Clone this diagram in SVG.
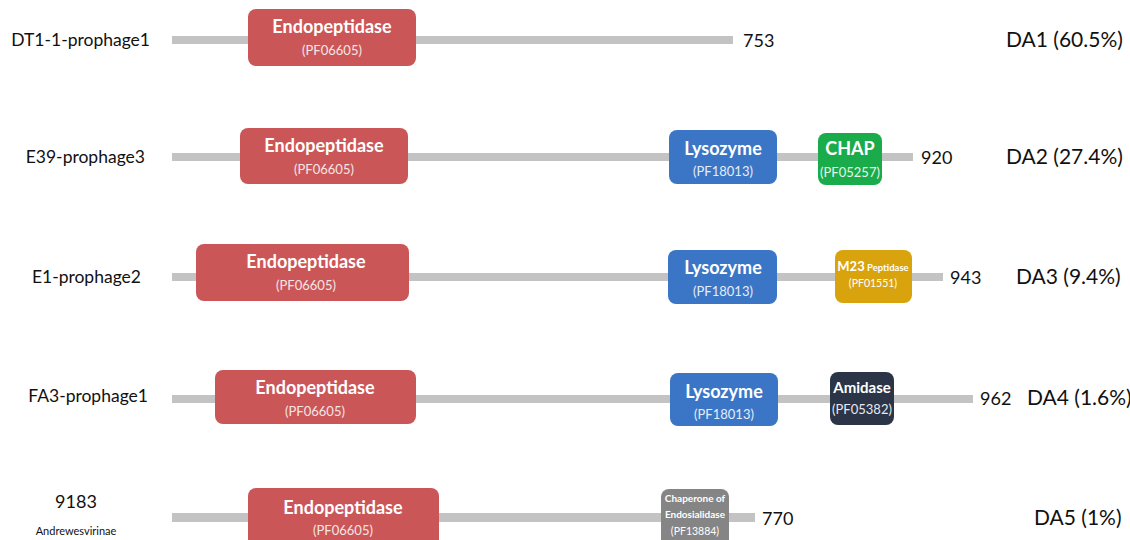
<svg xmlns="http://www.w3.org/2000/svg" width="1130" height="540" viewBox="0 0 1130 540">
<style>
.bar{fill:#c3c3c3}
.box{rx:8;ry:8}
.endo{fill:#cb5658}
.lyso{fill:#3b76c6}
.chap{fill:#1aab4a}
.m23{fill:#d9a30e}
.ami{fill:#2b3547}
.cha{fill:#858585}
.t{font-family:Lato,"Open Sans","Liberation Sans",sans-serif;fill:#111}
.lab{font-size:17.5px}
.num{font-size:18px}
.da{font-size:21px}
.w{font-family:Lato,"Open Sans","Liberation Sans",sans-serif;fill:#fff;text-anchor:middle}
.big{font-size:18px;font-weight:bold}
.sm{font-size:13px;fill:#f3e6e6}
</style>
<rect width="1130" height="540" fill="#fff"/>
<g id="connectors">
<rect class="bar" x="172" y="36" width="561" height="8"/>
<rect class="bar" x="172" y="153" width="741" height="8"/>
<rect class="bar" x="172" y="273" width="771" height="8"/>
<rect class="bar" x="172" y="395" width="801" height="8"/>
<rect class="bar" x="172" y="513" width="583" height="9"/>
</g>
<g id="row1">
<text class="t lab" x="150" y="46" text-anchor="end">DT1-1-prophage1</text>
<rect class="box endo" x="248" y="9" width="168" height="57"/>
<text class="w big" x="332" y="33">Endopeptidase</text>
<text class="w sm" x="332" y="55">(PF06605)</text>
<text class="t num" x="743" y="47">753</text>
<text class="t da" x="1006" y="47">DA1 (60.5%)</text>
</g>
<g id="row2">
<text class="t lab" x="145" y="163" text-anchor="end">E39-prophage3</text>
<rect class="box endo" x="240" y="128" width="168" height="56"/>
<text class="w big" x="324" y="152">Endopeptidase</text>
<text class="w sm" x="324" y="174">(PF06605)</text>
<rect class="box lyso" x="669" y="130" width="108" height="54"/>
<text class="w big" x="723" y="155">Lysozyme</text>
<text class="w sm" x="723" y="176" style="fill:#e4ecf8">(PF18013)</text>
<rect class="box chap" x="818" y="133" width="64" height="52"/>
<text class="w big" x="850" y="155">CHAP</text>
<text class="w sm" x="850" y="177" style="fill:#e4f5ea" font-size="12">(PF05257)</text>
<text class="t num" x="921" y="164">920</text>
<text class="t da" x="1006" y="164">DA2 (27.4%)</text>
</g>
<g id="row3">
<text class="t lab" x="141" y="283" text-anchor="end">E1-prophage2</text>
<rect class="box endo" x="196" y="244" width="213" height="57"/>
<text class="w big" x="306" y="268">Endopeptidase</text>
<text class="w sm" x="306" y="290">(PF06605)</text>
<rect class="box lyso" x="668" y="250" width="109" height="54"/>
<text class="w big" x="723" y="274">Lysozyme</text>
<text class="w sm" x="723" y="296" style="fill:#e4ecf8">(PF18013)</text>
<rect class="box m23" x="835" y="250" width="77" height="53"/>
<text class="w" x="873" y="271"><tspan font-size="13" font-weight="bold">M23</tspan><tspan font-size="9.5" font-weight="bold"> Peptidase</tspan></text>
<text class="w" x="873" y="287" font-size="10.5" fill="#fbf0d4">(PF01551)</text>
<text class="t num" x="950" y="284">943</text>
<text class="t da" x="1016" y="284">DA3 (9.4%)</text>
</g>
<g id="row4">
<text class="t lab" x="148" y="402" text-anchor="end">FA3-prophage1</text>
<rect class="box endo" x="215" y="370" width="201" height="54"/>
<text class="w big" x="315" y="394">Endopeptidase</text>
<text class="w sm" x="315" y="416">(PF06605)</text>
<rect class="box lyso" x="670" y="373" width="108" height="53"/>
<text class="w big" x="724" y="398">Lysozyme</text>
<text class="w sm" x="724" y="419" style="fill:#e4ecf8">(PF18013)</text>
<rect class="box ami" x="830" y="372" width="64" height="53"/>
<text class="w" x="862" y="393" font-size="15" font-weight="bold">Amidase</text>
<text class="w sm" x="862" y="414" style="fill:#e8e8ee" font-size="12">(PF05382)</text>
<text class="t num" x="980" y="405">962</text>
<text class="t da" x="1027" y="405">DA4 (1.6%)</text>
</g>
<g id="row5">
<text class="t num" x="76" y="508" text-anchor="middle">9183</text>
<text class="t" x="76" y="535" text-anchor="middle" font-size="11">Andrewesvirinae</text>
<rect class="box endo" x="248" y="488" width="191" height="60"/>
<text class="w big" x="343" y="514">Endopeptidase</text>
<text class="w sm" x="343" y="535">(PF06605)</text>
<rect class="box cha" x="661" y="489" width="68" height="58"/>
<text class="w" x="695" y="502" font-size="10" font-weight="bold">Chaperone of</text>
<text class="w" x="695" y="518" font-size="10" font-weight="bold">Endosialidase</text>
<text class="w" x="695" y="535" font-size="10.5" fill="#eee">(PF13884)</text>
<text class="t num" x="762" y="525">770</text>
<text class="t da" x="1034" y="525">DA5 (1%)</text>
</g>
</svg>
